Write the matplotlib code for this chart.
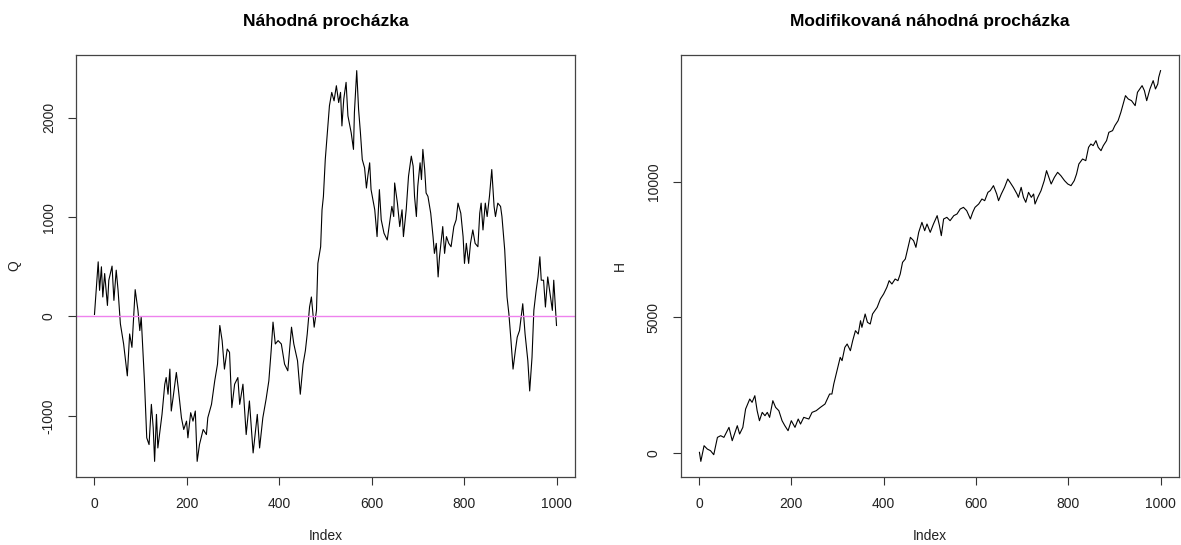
import matplotlib
matplotlib.use("Agg")
import matplotlib.pyplot as plt

plt.rcParams['font.family'] = ['Liberation Sans', 'DejaVu Sans']

# ---- data (index, value) ----
q_index = [1, 9, 12, 16, 19, 23, 29, 32, 39, 43, 48, 52, 57, 64, 70, 72, 77, 82, 89, 95,
           99, 102, 109, 114, 119, 124, 128, 131, 135, 138, 147, 153, 156, 160, 164, 167,
           171, 178, 182, 189, 194, 200, 203, 209, 214, 219, 223, 228, 236, 243, 246, 254,
           261, 267, 272, 277, 282, 288, 293, 298,
           304, 311, 315, 322, 329, 336, 344, 353, 358, 365, 372, 378, 383, 387, 392, 398,
           405, 412, 419, 427, 432, 440, 446, 452, 457, 461, 466, 470, 476, 481, 484, 490,
           493, 496, 500, 504, 509, 514, 519, 524, 529, 533, 536, 540, 545, 549, 556, 561,
           563, 568, 572, 576, 580, 585, 589, 592, 596, 599, 607, 612, 617, 621, 627, 634,
           639, 644, 648,
           650, 656, 661, 666, 669, 675, 680, 686, 690, 693, 697, 700, 705, 708, 711, 715,
           718, 722, 728, 733, 736, 740, 744, 747, 754, 758, 762, 767, 772, 778, 783, 787,
           793, 798, 801, 805, 810, 814, 819, 824, 830, 834, 837, 841, 846, 850, 855, 860,
           865, 868, 873, 879, 882, 888, 893, 897, 901, 906, 911, 915, 920, 927, 932, 938,
           942, 947, 951, 956, 960, 964, 967, 972, 976, 981, 986, 991, 994, 997, 1000]
q_value = [20, 550, 263, 500, 196, 432, 111, 365, 507, 162, 466, 263, -74, -277, -513, -598,
           -176, -311, 270, 61, -142, -7, -648, -1222, -1290, -885, -1121, -1459, -986, -1324,
           -986, -682, -615, -783, -530, -952, -817, -564, -716, -1020, -1138, -1054, -1222,
           -969, -1054, -952, -1459, -1290, -1138, -1189, -1020, -885, -648, -480, -91, -243,
           -530, -328, -361, -918,
           -682, -615, -885, -682, -1189, -851, -1374, -986, -1324, -1020, -834, -648, -344,
           -57, -277, -243, -277, -480, -547, -108, -277, -446, -783, -480, -344, -176, 95,
           196, -108, 61, 534, 702, 1074, 1209, 1580, 1817, 2121, 2256, 2171, 2323, 2154,
           2256, 1918, 2188, 2357, 2019, 1851, 1682, 2053, 2475, 2087, 1851, 1580, 1496, 1293,
           1412, 1547, 1277, 1074, 804, 1277, 973, 838, 770, 939, 1108, 1006,
           1344, 1141, 905, 1074, 804, 1074, 1412, 1614, 1513, 1209, 1006, 1310, 1547, 1378,
           1682, 1479, 1243, 1209, 1040, 804, 635, 736, 398, 601, 905, 635, 804, 736, 702,
           905, 973, 1141, 1040, 804, 534, 736, 534, 736, 871, 736, 702, 1040, 1141, 871,
           1141, 1006, 1209, 1479, 1108, 1006, 1141, 1108, 1006, 669, 196, 27, -209, -530,
           -344, -209, -142, 128, -176, -446, -750, -412, 61, 263, 398, 601, 365, 365, 95,
           398, 230, 61, 365, 128, -91]

h_index = [1, 4, 11, 18, 25, 32, 40, 47, 54, 65, 72, 83, 88, 95, 101, 110, 115, 121, 126,
           131, 137, 143, 148, 153, 160, 166, 173, 180, 186, 193, 200, 208, 215, 220, 227,
           238, 245, 254, 263, 273, 278, 283, 288, 292, 299, 306, 310, 316, 321, 328, 333,
           339, 345, 350, 353, 360, 365, 371, 376, 386, 393, 400, 407, 412, 418, 425, 431,
           436, 441, 447, 453, 458, 465, 470, 476,
           483, 489, 494, 501, 508, 516, 521, 525, 530, 537, 544, 552, 559, 566, 573, 580,
           588, 593, 598, 606, 613, 619, 626, 631, 638, 645, 649, 655, 662, 669, 674, 681,
           689, 692, 698, 703, 708, 714, 720, 725, 728, 734, 741, 748, 753, 758, 763, 770,
           777, 784, 792, 799, 806, 813, 818, 823, 831, 838, 844, 849, 854, 860, 865, 871,
           876, 883, 888, 896, 901, 908, 914, 919, 924, 930, 937, 945, 950, 955, 960, 965,
           970, 977, 984, 989, 994, 996, 1000]
h_value = [25, -307, 270, 147, 86, -61, 577, 639, 577, 946, 454, 1007, 700, 946, 1621, 1989,
           1867, 2112, 1560, 1191, 1498, 1375, 1498, 1314, 1928, 1682, 1560, 1191, 1007, 823,
           1191, 946, 1253, 1068, 1314, 1253, 1498, 1560, 1682, 1805, 1989, 2174, 2174, 2542,
           3033, 3524, 3402, 3893, 4016, 3770, 4138, 4507, 4384, 4875, 4630, 5121, 4814, 4752,
           5121, 5366, 5673, 5858, 6103, 6349, 6226, 6410, 6349, 6594, 7024, 7147, 7577, 7945,
           7822, 7577, 8129,
           8498, 8191, 8437, 8129, 8437, 8744, 8375, 8007, 8621, 8682, 8559, 8744, 8805, 8989,
           9050, 8928, 8621, 8866, 9050, 9173, 9358, 9296, 9603, 9664, 9849, 9542, 9296, 9542,
           9787, 10094, 9972, 9787, 9542, 9419, 9787, 9419, 9235, 9603, 9419, 9542, 9173, 9419,
           9664, 10033, 10401, 10156, 9910, 10156, 10340, 10217, 10033, 9910, 9849, 10033,
           10279, 10647, 10831, 10770, 11261, 11384, 11323, 11507, 11261, 11138, 11323, 11507,
           11814, 11875, 12059, 12243, 12550, 12857, 13164, 13041, 12980, 12796, 13287, 13410,
           13533, 13349, 12980, 13410, 13717, 13410, 13594, 13840, 14086]

titles = ["Náhodná procházka", "Modifikovaná náhodná procházka"]
ylabels = ["Q", "H"]
xticks = [0, 200, 400, 600, 800, 1000]
yticks_q = [-1000, 0, 1000, 2000]
yticks_h = [0, 5000, 10000]
ref_level = 0

W, H = 1181, 545
fig = plt.figure(figsize=(W / 100, H / 100), dpi=100)
axL = fig.add_axes([76 / W, (H - 477) / H, (575 - 76) / W, (477 - 55) / H])
axR = fig.add_axes([681 / W, (H - 477) / H, (1179 - 681) / W, (477 - 55) / H])


def r_lim(vals):
    lo, hi = min(vals), max(vals)
    r = hi - lo
    return lo - 0.04 * r, hi + 0.04 * r


def style(ax, title, ylabel, yticks, xs, ys, ylab_x):
    ax.plot(xs, ys, color="black", lw=0.8)
    ax.set_xlim(1 - 0.04 * 999, 1000 + 0.04 * 999)
    ax.set_ylim(*r_lim(ys))
    ax.set_xticks(xticks)
    ax.set_yticks(yticks)
    ax.set_yticklabels([str(t) for t in yticks], rotation=90, va="center")
    ax.tick_params(axis="both", length=5.5, width=0.8, labelsize=10, color="#333333",
                   labelcolor="#222222", pad=9)
    for s in ax.spines.values():
        s.set_color("#444444")
        s.set_linewidth(0.9)
    ax.set_title(title, fontsize=12.5, fontweight="bold", pad=21)
    ax.set_xlabel("Index", fontsize=10, color="#222222", labelpad=13)
    ax.set_ylabel(ylabel, fontsize=10, color="#222222")
    ax.yaxis.set_label_coords(ylab_x, 0.5)


style(axL, titles[0], ylabels[0], yticks_q, q_index, q_value, -0.11)
axL.axhline(ref_level, color="#EE82EE", lw=1.0)
style(axR, titles[1], ylabels[1], yticks_h, h_index, h_value, -0.108)

fig.savefig("out.png", dpi=100)
